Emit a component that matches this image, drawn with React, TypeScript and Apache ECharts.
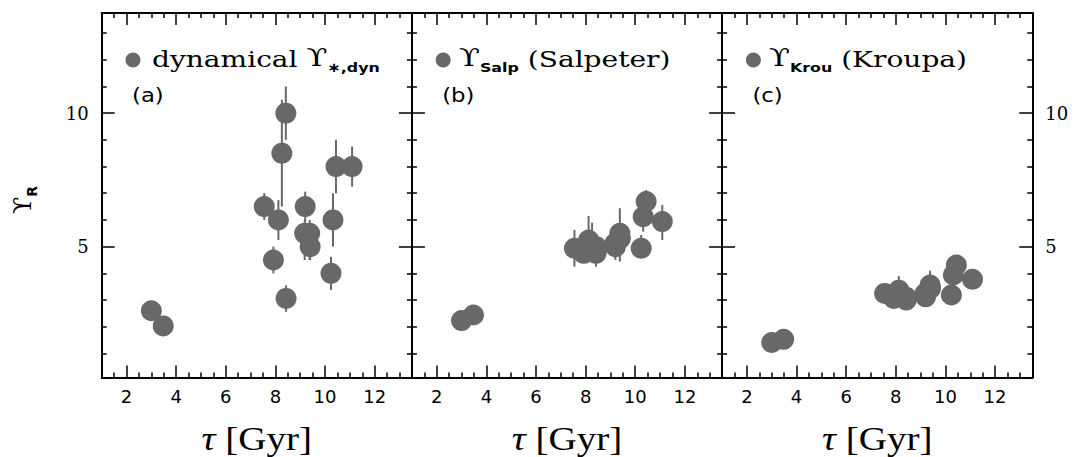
import React, { useEffect, useRef } from "react";
import * as echarts from "echarts";

// ---- data ----
const ages = [3.0, 3.48, 7.55, 7.92, 8.12, 8.26, 8.42, 8.43, 9.18, 9.2, 9.38, 9.4, 10.24, 10.32, 10.44, 11.09];

const dynVals = [2.6, 2.03, 6.5, 4.5, 6.0, 8.5, 10.0, 3.06, 5.5, 6.5, 5.5, 5.0, 4.0, 6.0, 8.0, 8.0];
const dynLo = [2.6, 2.03, 6.0, 4.0, 5.25, 6.5, 9.0, 2.56, 4.5, 5.94, 4.5, 4.5, 3.38, 5.0, 7.0, 7.25];
const dynHi = [2.6, 2.03, 7.0, 5.0, 6.75, 10.5, 11.0, 3.55, 6.0, 7.06, 6.0, 5.5, 4.62, 7.0, 9.0, 8.75];

const salpVals = [2.23, 2.44, 4.94, 4.75, 5.25, 5.06, 4.75, 5.0, 5.12, 5.0, 5.5, 5.31, 4.94, 6.12, 6.69, 5.94];
const salpLo = [2.23, 2.44, 4.25, 4.4, 4.7, 4.6, 4.25, 4.6, 4.6, 4.5, 4.44, 4.8, 4.57, 5.56, 6.2, 5.25];
const salpHi = [2.23, 2.44, 5.62, 5.1, 6.15, 5.9, 5.2, 5.4, 5.6, 5.5, 6.44, 5.8, 5.44, 6.6, 7.12, 6.56];

const krouVals = [1.41, 1.53, 3.25, 3.06, 3.37, 3.19, 3.0, 3.1, 3.25, 3.12, 3.56, 3.44, 3.19, 3.94, 4.31, 3.78];
const krouLo = [1.41, 1.53, 2.95, 2.8, 3.0, 2.9, 2.75, 2.85, 2.95, 2.85, 3.1, 3.05, 2.95, 3.6, 4.0, 3.45];
const krouHi = [1.41, 1.53, 3.55, 3.3, 3.9, 3.5, 3.3, 3.35, 3.6, 3.4, 4.1, 3.8, 3.45, 4.25, 4.6, 4.1];

const xTickLabels = [2, 4, 6, 8, 10, 12];
const xMajorTicks = [2, 4, 6, 8, 10, 12];
const xMinorTicks = [1.5, 2.5, 3, 3.5, 4.5, 5, 5.5, 6.5, 7, 7.5, 8.5, 9, 9.5, 10.5, 11, 11.5, 12.5, 13];
const yTickLabels = [5, 10];
const yMajorTicks = [5, 10];
const yMinorTicks = [1, 2, 3, 4, 6, 7, 8, 9, 11, 12, 13];

const X_MIN = 1;
const X_MAX = 13.5;
const Y_MIN = 0.1;
const Y_MAX = 13.75;

const panelNames = ["dyn", "Salp", "Krou"];
const panelTags = ["(a)", "(b)", "(c)"];

// ---- styling / layout ----
const COLOR = "#686868";
const GRID_LEFTS = [101.7, 411.9, 722.1];
const GRID_W = 310.2;
const GRID_TOP = 13;
const GRID_H = 364.5;

function xAxes(gi: number) {
  const base = {
    gridIndex: gi,
    type: "value",
    min: X_MIN,
    max: X_MAX,
    splitLine: { show: false },
  };
  const tickStyle = { color: "#000", width: 1.5 };
  const majorLine = { show: true, onZero: false, lineStyle: { color: "#000", width: 2 } };
  return [
    {
      ...base,
      position: "bottom",
      axisLine: majorLine,
      axisTick: { show: true, inside: true, length: 12, customValues: xMajorTicks, lineStyle: tickStyle },
      axisLabel: {
        show: true,
        customValues: xTickLabels,
        margin: 10,
        fontSize: 18,
        fontFamily: "DejaVu Sans",
        color: "#000",
      },
    },
    {
      ...base,
      position: "bottom",
      axisLine: { show: false, onZero: false },
      axisTick: { show: true, inside: true, length: 5, customValues: xMinorTicks, lineStyle: tickStyle },
      axisLabel: { show: false },
    },
    {
      ...base,
      position: "top",
      axisLine: majorLine,
      axisTick: { show: true, inside: true, length: 12, customValues: xMajorTicks, lineStyle: tickStyle },
      axisLabel: { show: false },
    },
    {
      ...base,
      position: "top",
      axisLine: { show: false, onZero: false },
      axisTick: { show: true, inside: true, length: 5, customValues: xMinorTicks, lineStyle: tickStyle },
      axisLabel: { show: false },
    },
  ];
}

function yAxes(gi: number) {
  const base = {
    gridIndex: gi,
    type: "value",
    min: Y_MIN,
    max: Y_MAX,
    splitLine: { show: false },
  };
  const tickStyle = { color: "#000", width: 1.5 };
  const majorLine = { show: true, onZero: false, lineStyle: { color: "#000", width: 2 } };
  const lbl = (show: boolean) => ({
    show,
    customValues: yTickLabels,
    margin: 13,
    fontSize: 18,
    fontFamily: "DejaVu Serif",
    color: "#000",
  });
  return [
    {
      ...base,
      position: "left",
      axisLine: majorLine,
      axisTick: { show: true, inside: true, length: 13, customValues: yMajorTicks, lineStyle: tickStyle },
      axisLabel: lbl(gi === 0),
    },
    {
      ...base,
      position: "left",
      axisLine: { show: false, onZero: false },
      axisTick: { show: true, inside: true, length: 5, customValues: yMinorTicks, lineStyle: tickStyle },
      axisLabel: { show: false },
    },
    {
      ...base,
      position: "right",
      axisLine: majorLine,
      axisTick: { show: true, inside: true, length: 13, customValues: yMajorTicks, lineStyle: tickStyle },
      axisLabel: lbl(gi === 2),
    },
    {
      ...base,
      position: "right",
      axisLine: { show: false, onZero: false },
      axisTick: { show: true, inside: true, length: 5, customValues: yMinorTicks, lineStyle: tickStyle },
      axisLabel: { show: false },
    },
  ];
}

function errorSeries(gi: number, lo: number[], hi: number[]) {
  return {
    type: "custom",
    xAxisIndex: gi * 4,
    yAxisIndex: gi * 4,
    z: 1,
    data: ages.map((a, k) => [a, lo[k], hi[k]]),
    encode: { x: 0, y: [1, 2] },
    renderItem: (params: any, api: any) => {
      const x = api.value(0);
      const p1 = api.coord([x, api.value(1)]);
      const p2 = api.coord([x, api.value(2)]);
      return {
        type: "line",
        shape: { x1: p1[0], y1: p1[1], x2: p2[0], y2: p2[1] },
        style: { stroke: COLOR, lineWidth: 2 },
      };
    },
  };
}

function pointSeries(gi: number, vals: number[]) {
  return {
    type: "scatter",
    xAxisIndex: gi * 4,
    yAxisIndex: gi * 4,
    z: 2,
    symbol: "circle",
    symbolSize: 21,
    itemStyle: { color: COLOR, opacity: 1 },
    data: ages.map((a, k) => [a, vals[k]]),
  };
}

function legendText(gi: number) {
  const rich = {
    m: {
      fontFamily: "DejaVu Serif",
      fontSize: 23,
      lineHeight: 28,
      padding: [0, 0, 4, 0],
      verticalAlign: "bottom",
      color: "#000",
    },
    u: {
      fontFamily: "DejaVu Serif",
      fontSize: 25,
      lineHeight: 28,
      padding: [0, 0, 4, 0],
      verticalAlign: "bottom",
      color: "#000",
    },
    s: {
      fontFamily: "DejaVu Sans",
      fontWeight: "bold",
      fontSize: 13,
      lineHeight: 14,
      verticalAlign: "bottom",
      color: "#000",
    },
  };
  let text = "";
  let x = 0;
  if (gi === 0) {
    text = "{m|dynamical }{u|ϒ}{s|∗," + panelNames[0] + "}";
    x = 152;
  } else if (gi === 1) {
    text = "{u|ϒ}{s|" + panelNames[1] + "}{m| (Salpeter)}";
    x = 459;
  } else {
    text = "{u|ϒ}{s|" + panelNames[2] + "}{m| (Kroupa)}";
    x = 769;
  }
  return {
    type: "text",
    x,
    y: 60,
    scaleX: 1.22,
    style: {
      text,
      rich,
      align: "left",
      textAlign: "left",
      verticalAlign: "middle",
      textVerticalAlign: "middle",
    },
  };
}

function buildGraphics() {
  const els: any[] = [];
  for (let gi = 0; gi < 3; gi++) {
    const dx = GRID_LEFTS[gi] - GRID_LEFTS[0];
    els.push({
      type: "circle",
      shape: { cx: 133 + dx, cy: 60, r: 7.5 },
      style: { fill: COLOR },
    });
    els.push(legendText(gi));
    els.push({
      type: "text",
      x: 132 + dx,
      y: 96,
      scaleX: 1.2,
      style: {
        text: panelTags[gi],
        fontFamily: "DejaVu Sans",
        fontSize: 19,
        fill: "#000",
        align: "left",
        textAlign: "left",
        verticalAlign: "middle",
        textVerticalAlign: "middle",
      },
    });
    els.push({
      type: "text",
      x: GRID_LEFTS[gi] + GRID_W / 2,
      y: 438,
      scaleX: 1.15,
      style: {
        text: "{t|τ}{b| [Gyr]}",
        rich: {
          t: { fontFamily: "Liberation Serif", fontStyle: "italic", fontSize: 34, lineHeight: 30, color: "#000" },
          b: { fontFamily: "Liberation Serif", fontSize: 34, lineHeight: 30, color: "#000" },
        },
        align: "center",
        textAlign: "center",
        verticalAlign: "middle",
        textVerticalAlign: "middle",
      },
    });
  }
  els.push({
    type: "text",
    x: 25,
    y: 200,
    rotation: Math.PI / 2,
    style: {
      text: "{m|ϒ}{s|R}",
      rich: {
        m: {
          fontFamily: "DejaVu Serif",
          fontSize: 25,
          lineHeight: 28,
          padding: [0, 0, 4, 0],
          verticalAlign: "bottom",
          color: "#000",
        },
        s: {
          fontFamily: "DejaVu Sans",
          fontWeight: "bold",
          fontSize: 14,
          lineHeight: 14,
          verticalAlign: "bottom",
          color: "#000",
        },
      },
      align: "center",
      textAlign: "center",
      verticalAlign: "middle",
      textVerticalAlign: "middle",
    },
  });
  return els;
}

export default function App() {
  const ref = useRef<HTMLDivElement>(null);
  useEffect(() => {
    if (!ref.current) return;
    const chart = echarts.init(ref.current, undefined, { renderer: "svg" });
    const grids = [0, 1, 2].map((i) => ({
      left: GRID_LEFTS[i],
      top: GRID_TOP,
      width: GRID_W,
      height: GRID_H,
      containLabel: false,
    }));
    const option: any = {
      animation: false,
      backgroundColor: "#fff",
      grid: grids,
      xAxis: [...xAxes(0), ...xAxes(1), ...xAxes(2)],
      yAxis: [...yAxes(0), ...yAxes(1), ...yAxes(2)],
      series: [
        errorSeries(0, dynLo, dynHi),
        pointSeries(0, dynVals),
        errorSeries(1, salpLo, salpHi),
        pointSeries(1, salpVals),
        errorSeries(2, krouLo, krouHi),
        pointSeries(2, krouVals),
      ],
      graphic: buildGraphics(),
    };
    chart.setOption(option);
    return () => chart.dispose();
  }, []);
  return (
    <div
      ref={ref}
      style={{ position: "fixed", left: 0, top: 0, width: 1075, height: 457, background: "#fff" }}
    />
  );
}
